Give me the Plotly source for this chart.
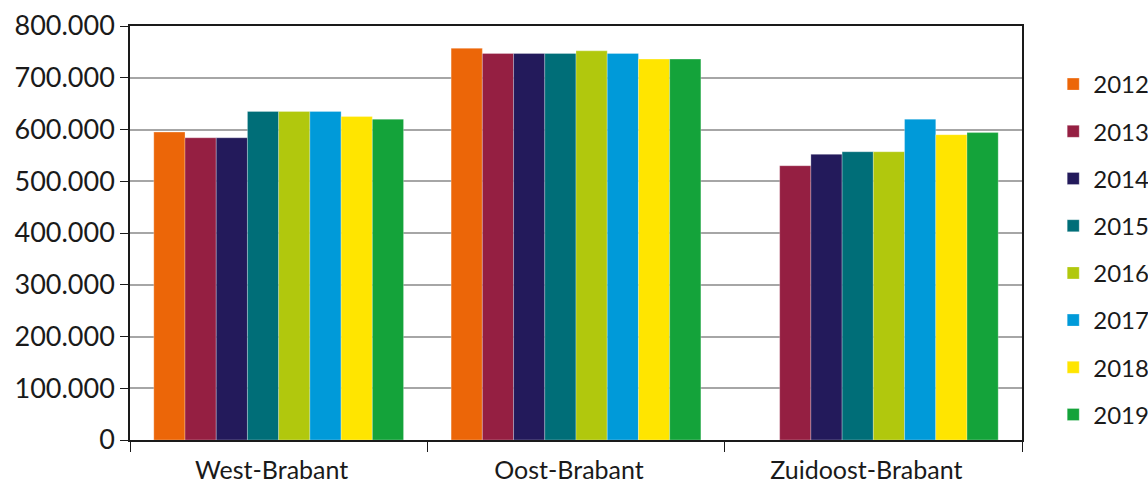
import plotly.graph_objects as go

regions = ["West-Brabant", "Oost-Brabant", "Zuidoost-Brabant"]
years = ["2012", "2013", "2014", "2015", "2016", "2017", "2018", "2019"]

# values per year, in region order
v2012 = [595000, 757000, None]
v2013 = [584000, 747000, 530000]
v2014 = [584000, 747000, 552000]
v2015 = [635000, 747000, 557000]
v2016 = [635000, 752000, 557000]
v2017 = [635000, 747000, 620000]
v2018 = [625000, 736000, 590000]
v2019 = [620000, 736000, 594000]

series = [v2012, v2013, v2014, v2015, v2016, v2017, v2018, v2019]
colors = ["#EC6608", "#951F42", "#231A5B", "#006E78",
          "#B1C80D", "#009AD9", "#FFE500", "#14A33A"]

font_family = "Lato, 'Noto Sans', sans-serif"
text_color = "#1a1a1a"

fig = go.Figure()
for year, vals, col in zip(years, series, colors):
    fig.add_trace(go.Bar(
        x=regions, y=vals, name=year, legendgroup=year,
        marker=dict(color=col, line=dict(color="rgba(255,255,255,0.35)", width=0.8)),
    ))

fig.update_layout(
    width=1148, height=484,
    margin=dict(l=130, r=126, t=26, b=44, autoexpand=False),
    paper_bgcolor="white", plot_bgcolor="white",
    barmode="group", bargap=0.16, bargroupgap=0,
    separators=",.",
    font=dict(family=font_family, color=text_color),
    legend=dict(
        x=1.035, xanchor="left", y=0.913, yanchor="top",
        font=dict(size=24, family=font_family, color=text_color),
        traceorder="grouped", tracegroupgap=13,
        itemwidth=30,
    ),
    showlegend=True,
)

fig.update_yaxes(
    range=[0, 800000], dtick=100000, tickformat=",d",
    showgrid=True, gridcolor="#A6A6A6", gridwidth=1.5,
    showline=True, linecolor=text_color, linewidth=1.5, mirror=True,
    ticks="outside", ticklen=8, tickcolor=text_color, tickwidth=1.2,
    tickfont=dict(size=27, family=font_family, color=text_color),
    zeroline=False,
)
fig.update_xaxes(
    showline=True, linecolor=text_color, linewidth=1.5, mirror=True,
    ticks="outside", tickson="boundaries", ticklen=10,
    tickcolor=text_color, tickwidth=1.2,
    tickfont=dict(size=25, family=font_family, color=text_color),
    ticklabelstandoff=7, ticklabelshift=-7,
)

fig.write_html("out.html")
